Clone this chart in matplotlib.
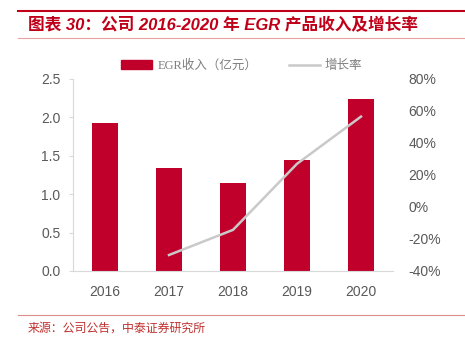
import matplotlib.pyplot as plt
import numpy as np
from matplotlib.lines import Line2D
from matplotlib.patches import Patch
from matplotlib.ticker import PercentFormatter

plt.rcParams['font.family'] = ['Liberation Sans', 'Noto Sans CJK SC', 'DejaVu Sans']
plt.rcParams['axes.unicode_minus'] = False

years = ['2016', '2017', '2018', '2019', '2020']
revenue = [1.93, 1.34, 1.14, 1.44, 2.24]          # EGR收入（亿元）
growth_years = ['2017', '2018', '2019', '2020']
growth = [-0.30, -0.143, 0.27, 0.565]            # 增长率

bar_red = '#C0002B'
line_gray = '#C9C9C9'
text_gray = '#595959'
title_red = '#C00018'

fig = plt.figure(figsize=(4.65, 3.44), dpi=100)
ax = fig.add_axes([73 / 465, 1 - 271 / 344, 320 / 465, 192 / 344])
ax2 = ax.twinx()

x = np.arange(len(years))
ax.bar(x, revenue, width=0.4, color=bar_red, zorder=2)
gx = [years.index(y) for y in growth_years]
ax2.plot(gx, growth, color=line_gray, lw=1.8, zorder=3)

ax.set_xlim(-0.5, len(years) - 0.5)
ax.set_ylim(0, 2.5)
ax.set_yticks(np.arange(0, 2.51, 0.5))
ax.set_yticklabels([f'{v:.1f}' for v in np.arange(0, 2.51, 0.5)])
ax.set_xticks(x)
ax.set_xticklabels(years)
ax2.set_ylim(-0.4, 0.8)
ax2.set_yticks(np.arange(-0.4, 0.81, 0.2))
ax2.yaxis.set_major_formatter(PercentFormatter(1.0, decimals=0))

for a in (ax, ax2):
    for s in ('top', 'right'):
        a.spines[s].set_visible(False)
ax2.spines['left'].set_visible(False)
ax2.spines['bottom'].set_visible(False)
ax.spines['left'].set_color('#D9D9D9')
ax.spines['bottom'].set_color('#D9D9D9')
ax.tick_params(axis='y', length=3, color='#D9D9D9', pad=6, labelsize=10, labelcolor=text_gray)
ax.tick_params(axis='x', length=0, pad=10, labelsize=10, labelcolor=text_gray)
ax2.tick_params(axis='y', length=0, pad=11, labelsize=10, labelcolor=text_gray)
ax.set_zorder(ax2.get_zorder() - 1)
ax.patch.set_visible(True)
ax2.patch.set_visible(False)

handles = [Patch(color=bar_red), Line2D([], [], color=line_gray, lw=1.8)]
fig.legend(handles, ['EGR收入（亿元）', '增长率'], loc='center', ncol=2,
           bbox_to_anchor=(0.52, 1 - 66 / 344), frameon=False,
           handlelength=2.5, handleheight=0.7, columnspacing=2.5, handletextpad=0.4,
           prop={'family': ['Liberation Serif', 'Noto Sans CJK SC'], 'size': 9},
           labelcolor='#7F7F7F')

# 标题与来源
fig.add_artist(Line2D([18 / 465, 1], [1 - 11 / 344] * 2, color=title_red, lw=1.5))
fig.add_artist(Line2D([18 / 465, 1], [1 - 38 / 344] * 2, color='#E8A0A0', lw=0.8))
fig.text(28 / 465, 1 - 25 / 344, '图表 30：公司 2016-2020 年 EGR 产品收入及增长率',
         color=title_red, fontsize=12, fontweight='bold', fontstyle='italic',
         va='center', ha='left')
fig.add_artist(Line2D([18 / 465, 1], [1 - 315 / 344] * 2, color='#E08C8C', lw=0.8))
fig.text(28 / 465, 1 - 328 / 344, '来源：公司公告，中泰证券研究所',
         color='#C0302E', fontsize=8.6, va='center', ha='left',
         family=['Noto Sans CJK SC', 'DejaVu Sans'])

fig.savefig('out.png', dpi=100)
